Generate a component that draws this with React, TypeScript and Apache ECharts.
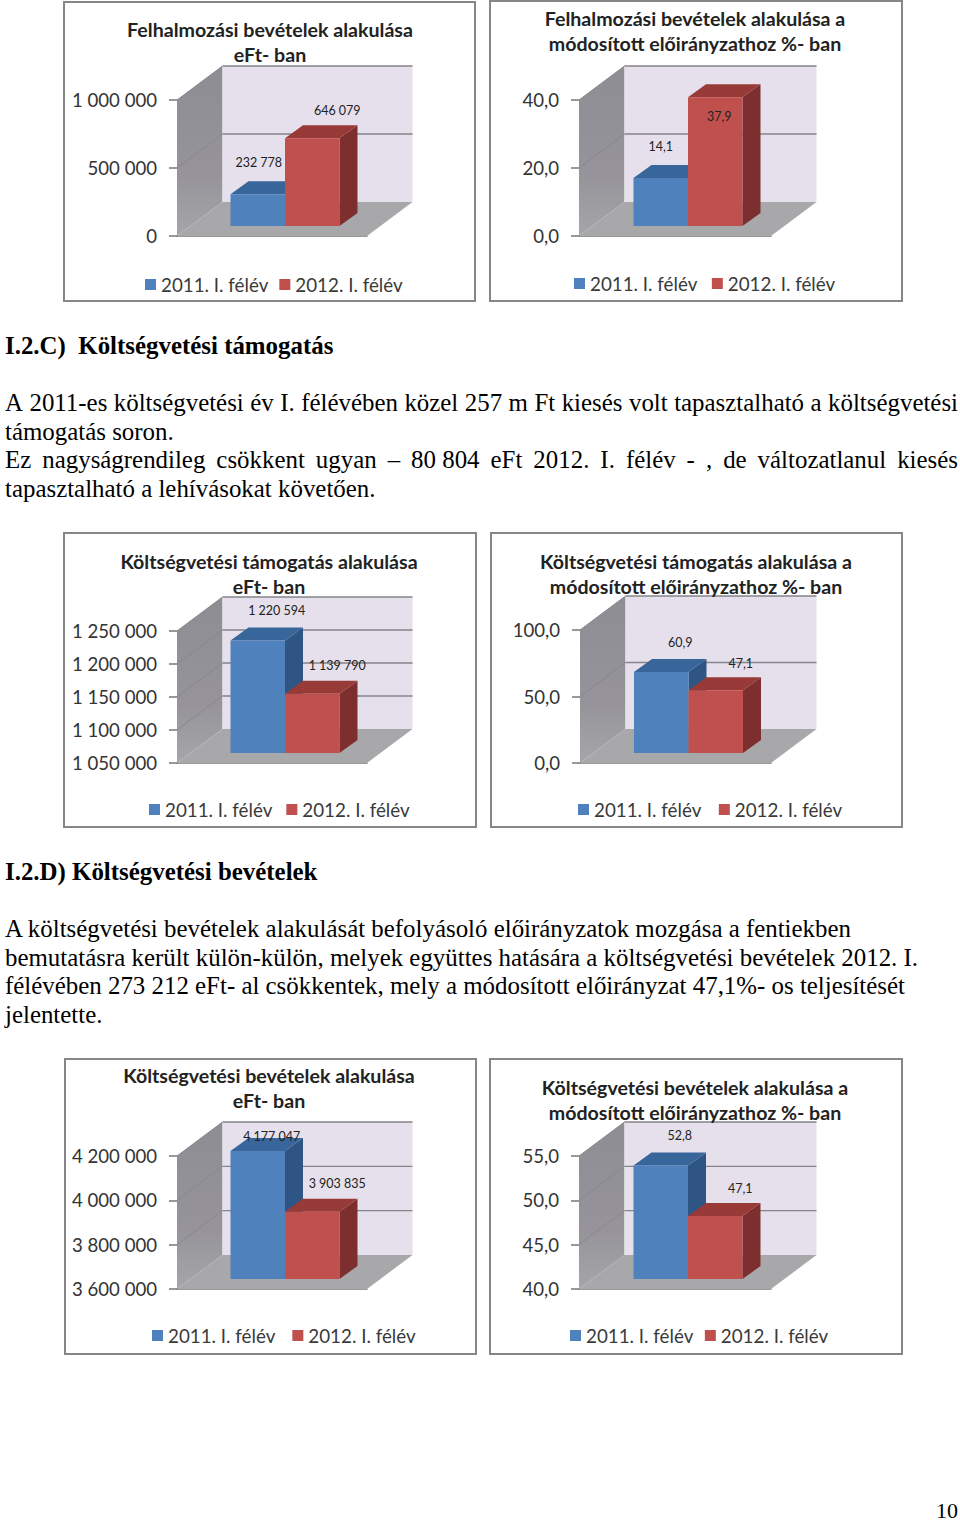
import React, { useEffect, useRef } from "react";
import * as echarts from "echarts";

const categories = ["I. félév"];
const seriesNames = ["2011. I. félév", "2012. I. félév"];

const values1 = [232778, 646079];
const ticks1 = [0, 500000, 1000000];
const values2 = [14.1, 37.9];
const ticks2 = [0, 20, 40];
const values3 = [1220594, 1139790];
const ticks3 = [1050000, 1100000, 1150000, 1200000, 1250000];
const values4 = [60.9, 47.1];
const ticks4 = [0, 50, 100];
const values5 = [4177047, 3903835];
const ticks5 = [3600000, 3800000, 4000000, 4200000];
const values6 = [52.8, 47.1];
const ticks6 = [40, 45, 50, 55];

const title1 = "Felhalmozási bevételek alakulása\neFt- ban";
const title2 = "Felhalmozási bevételek alakulása a\nmódosított előirányzathoz %- ban";
const title3 = "Költségvetési támogatás alakulása\neFt- ban";
const title4 = "Költségvetési támogatás alakulása a\nmódosított előirányzathoz %- ban";
const title5 = "Költségvetési bevételek alakulása\neFt- ban";
const title6 = "Költségvetési bevételek alakulása a\nmódosított előirányzathoz %- ban";

const heading1 = "I.2.C)  Költségvetési támogatás";
const heading2 = "I.2.D) Költségvetési bevételek";
const paragraph1 = [
  ["A", "2011-es", "költségvetési", "év", "I.", "félévében", "közel", "257", "m", "Ft", "kiesés", "volt", "tapasztalható", "a", "költségvetési"],
  ["támogatás soron."],
  ["Ez", "nagyságrendileg", "csökkent", "ugyan", "–", "80 804", "eFt", "2012.", "I.", "félév", "-", ",", "de", "változatlanul", "kiesés"],
  ["tapasztalható a lehívásokat követően."],
];
const paragraph2 = [
  "A költségvetési bevételek alakulását befolyásoló előirányzatok mozgása a fentiekben",
  "bemutatásra került külön-külön, melyek együttes hatására a költségvetési bevételek 2012. I.",
  "félévében 273 212 eFt- al csökkentek, mely a módosított előirányzat 47,1%- os teljesítését",
  "jelentette.",
];
const pageNumber = "10";

const SANS = "Lato";
const SERIF = "Liberation Serif";
const BODY_SIZE = 24.9;

const fmtInt = (v: number) => String(Math.round(v)).replace(/\B(?=(\d{3})+$)/g, " ");
const fmtDec = (v: number) => v.toFixed(1).replace(".", ",");

type ChartDef = {
  values: number[]; ticks: number[]; title: string; fmt: (v: number) => string;
  frame: number[]; grid: number[]; titleAt: number[]; legendAt: number[]; legendGap: number;
  labelOffsets: number[][];
};

const charts: ChartDef[] = [
  { values: values1, ticks: ticks1, title: title1, fmt: fmtInt, frame: [64, 2, 411, 299], grid: [177, 100, 190, 136], titleAt: [270, 17], legendAt: [145, 275], legendGap: 11, labelOffsets: [[1, -32], [25, -28]] },
  { values: values2, ticks: ticks2, title: title2, fmt: fmtDec, frame: [490, 1, 412, 300], grid: [579, 100, 192, 136], titleAt: [695, 6], legendAt: [574, 274], legendGap: 14.5, labelOffsets: [[0, -32], [4, 19]] },
  { values: values3, ticks: ticks3, title: title3, fmt: fmtInt, frame: [64, 533, 412, 294], grid: [177, 631, 190, 132], titleAt: [269, 549], legendAt: [149, 800], legendGap: 14, labelOffsets: [[19, -30], [25, -28]] },
  { values: values4, ticks: ticks4, title: title4, fmt: fmtDec, frame: [491, 533, 411, 294], grid: [580, 630, 191, 133], titleAt: [696, 549], legendAt: [578, 800], legendGap: 17.5, labelOffsets: [[19, -30], [25, -27]] },
  { values: values5, ticks: ticks5, title: title5, fmt: fmtInt, frame: [65, 1059, 411, 295], grid: [177, 1156, 190, 133], titleAt: [269, 1063], legendAt: [152, 1326], legendGap: 17, labelOffsets: [[14, -15], [25, -28]] },
  { values: values6, ticks: ticks6, title: title6, fmt: fmtDec, frame: [490, 1059, 412, 295], grid: [579, 1156, 192, 133], titleAt: [695, 1075], legendAt: [570, 1326], legendGap: 11.5, labelOffsets: [[19, -30], [25, -28]] },
];

const WALL_DX = 45.5, WALL_DY = -34;
const PLANE_DX = 13, PLANE_DY = -10;
const BAR_DX = 18, BAR_DY = -13;
const BAR_W = 54.5;

const FRONT = ["#4f81bd", "#c0504d"];
const TOP = ["#38659a", "#983a38"];
const SIDE = ["#2f5585", "#7c2f2e"];
const LINE = "#85858a";

function renderWalls(params: any, api: any) {
  const v = api.value(1);
  const p = api.coord([0, v]);
  const band = api.size([1, 0])[0];
  const l = p[0] - band / 2, r = p[0] + band / 2, y = p[1];
  const children: any[] = [];
  const line = (x1: number, y1: number, x2: number, y2: number, w = 1.2, c = LINE) => ({
    type: "line", silent: true, shape: { x1, y1, x2, y2 }, style: { stroke: c, lineWidth: w },
  });
  if (params.dataIndex === 0) {
    const topV = api.value(2);
    const t = api.coord([0, topV])[1];
    const bx = l + WALL_DX;
    children.push({
      type: "polygon", silent: true,
      shape: { points: [[l, y], [l, t], [bx, t + WALL_DY], [bx, y + WALL_DY]] },
      style: { fill: new echarts.graphic.LinearGradient(0, 0, 0, 1, [
        { offset: 0, color: "#8f8d94" }, { offset: 0.65, color: "#96949a" }, { offset: 1, color: "#a6a6a9" },
      ]) },
    });
    children.push({
      type: "polygon", silent: true,
      shape: { points: [[bx, t + WALL_DY], [r + WALL_DX, t + WALL_DY], [r + WALL_DX, y + WALL_DY], [bx, y + WALL_DY]] },
      style: { fill: "#e6e0ec" },
    });
    children.push({
      type: "polygon", silent: true,
      shape: { points: [[l, y], [r, y], [r + WALL_DX, y + WALL_DY], [bx, y + WALL_DY]] },
      style: { fill: "#a8a8ab" },
    });
  } else {
    children.push(line(l, y, l + WALL_DX, y + WALL_DY, 1, "#88878d"));
    children.push(line(l + WALL_DX, y + WALL_DY, r + WALL_DX, y + WALL_DY, 1.4));
  }
  return { type: "group", children };
}

function renderBar(seriesIdx: number, def: ChartDef) {
  return (_params: any, api: any) => {
    const v = api.value(1);
    const top = api.coord([0, v]);
    const base = api.coord([0, def.ticks[0]]);
    const x0 = top[0] + PLANE_DX + (seriesIdx === 0 ? -BAR_W : 0);
    const x1 = x0 + BAR_W;
    const yt = top[1] + PLANE_DY, yb = base[1] + PLANE_DY;
    const off = def.labelOffsets[seriesIdx];
    return {
      type: "group",
      children: [
        { type: "polygon", silent: true, shape: { points: [[x1, yt], [x1 + BAR_DX, yt + BAR_DY], [x1 + BAR_DX, yb + BAR_DY], [x1, yb]] }, style: { fill: SIDE[seriesIdx] } },
        { type: "polygon", silent: true, shape: { points: [[x0, yt], [x0 + BAR_DX, yt + BAR_DY], [x1 + BAR_DX, yt + BAR_DY], [x1, yt]] }, style: { fill: TOP[seriesIdx] } },
        { type: "rect", silent: true, shape: { x: x0, y: yt, width: BAR_W, height: yb - yt }, style: { fill: FRONT[seriesIdx] } },
        {
          type: "text", silent: true, z2: 50, x: (x0 + x1) / 2 + off[0], y: yt + off[1],
          style: { text: def.fmt(v), fill: "#222222", fontFamily: SANS, fontSize: 12.5, align: "center", verticalAlign: "middle" },
        },
      ],
    };
  };
}

function bodyText(text: string, x: number, y: number, bold = false, align = "left", size = BODY_SIZE) {
  return {
    type: "text", x, y, silent: true,
    style: {
      text, fill: "#000000", fontFamily: SERIF, fontSize: size,
      fontWeight: bold ? "bold" : "normal", align, verticalAlign: "middle",
    },
  };
}

function justified(words: string[], x0: number, x1: number, y: number) {
  const ctx = document.createElement("canvas").getContext("2d") as CanvasRenderingContext2D;
  ctx.font = `${BODY_SIZE}px "${SERIF}"`;
  const widths = words.map((w) => ctx.measureText(w).width);
  const total = widths.reduce((a, b) => a + b, 0);
  const gap = (x1 - x0 - total) / (words.length - 1);
  let x = x0;
  return words.map((w, i) => {
    const el = bodyText(w, x, y);
    x += widths[i] + gap;
    return el;
  });
}

function buildOption() {
  const grids: any[] = [], xAxes: any[] = [], yAxes: any[] = [], series: any[] = [];
  const titles: any[] = [], legends: any[] = [], frames: any[] = [];

  charts.forEach((c, i) => {
    grids.push({ left: c.grid[0], top: c.grid[1], width: c.grid[2], height: c.grid[3], containLabel: false });
    xAxes.push({
      type: "category", gridIndex: i, data: categories,
      axisLabel: { show: false }, axisTick: { show: false },
      axisLine: { show: true, lineStyle: { color: "#77777b", width: 1.5 } },
      splitLine: { show: false },
    });
    yAxes.push({
      type: "value", gridIndex: i,
      min: c.ticks[0], max: c.ticks[c.ticks.length - 1], interval: c.ticks[1] - c.ticks[0],
      axisLine: { show: true, lineStyle: { color: "#8a8a8e", width: 1 } },
      axisTick: { show: true, length: 8, lineStyle: { color: "#77777b", width: 1.5 } },
      splitLine: { show: false },
      axisLabel: { margin: 20, color: "#333333", fontFamily: SANS, fontSize: 18.6, padding: [2, 0, 0, 0], formatter: (v: number) => c.fmt(v) },
    });
    series.push({
      type: "custom", name: "fal" + i, xAxisIndex: i, yAxisIndex: i, z: 1, silent: true,
      encode: { x: 0, y: 1 }, clip: false,
      data: c.ticks.map((t) => [0, t, c.ticks[c.ticks.length - 1]]),
      renderItem: renderWalls,
    });
    seriesNames.forEach((name, s) => {
      series.push({
        type: "custom", name, xAxisIndex: i, yAxisIndex: i, z: 3 + s, silent: true,
        encode: { x: 0, y: 1 }, clip: false,
        itemStyle: { color: FRONT[s] },
        data: [[0, c.values[s]]],
        renderItem: renderBar(s, c),
      });
    });
    titles.push({
      text: c.title, left: c.titleAt[0], top: c.titleAt[1], textAlign: "center", padding: 0,
      textStyle: { fontFamily: SANS, fontSize: 19.6, fontWeight: "bold", color: "#222222", lineHeight: 25 },
    });
    legends.push({
      data: seriesNames, left: c.legendAt[0], top: c.legendAt[1], orient: "horizontal", padding: 0,
      icon: "rect", itemWidth: 11, itemHeight: 11, itemGap: c.legendGap, selectedMode: false,
      textStyle: { fontFamily: SANS, fontSize: 18.8, color: "#3a3a3a", padding: [0, 0, 0, 0] },
    });
    frames.push({
      type: "rect", silent: true, shape: { x: c.frame[0], y: c.frame[1], width: c.frame[2], height: c.frame[3] },
      style: { fill: "#ffffff", stroke: "#868686", lineWidth: 2 },
    });
  });

  const texts: any[] = [
    bodyText(heading1, 5, 345, true),
    ...justified(paragraph1[0], 5, 958, 402),
    bodyText(paragraph1[1][0], 5, 431),
    ...justified(paragraph1[2], 5, 958, 459),
    bodyText(paragraph1[3][0], 5, 488),
    bodyText(heading2, 5, 871, true),
    ...paragraph2.map((t, i) => bodyText(t, 5, [928, 957, 985, 1014][i])),
    bodyText(pageNumber, 958, 1510.5, false, "right", 22),
  ];

  return {
    animation: false,
    backgroundColor: "#ffffff",
    title: titles,
    legend: legends,
    grid: grids,
    xAxis: xAxes,
    yAxis: yAxes,
    series,
    graphic: { elements: [...frames, ...texts] },
  };
}

export default function App() {
  const ref = useRef<HTMLDivElement>(null);
  useEffect(() => {
    const chart = echarts.init(ref.current as HTMLDivElement, undefined, { renderer: "svg" });
    chart.setOption(buildOption() as any);
    return () => chart.dispose();
  }, []);
  return <div ref={ref} style={{ position: "absolute", left: 0, top: 0, width: 960, height: 1522 }} />;
}
